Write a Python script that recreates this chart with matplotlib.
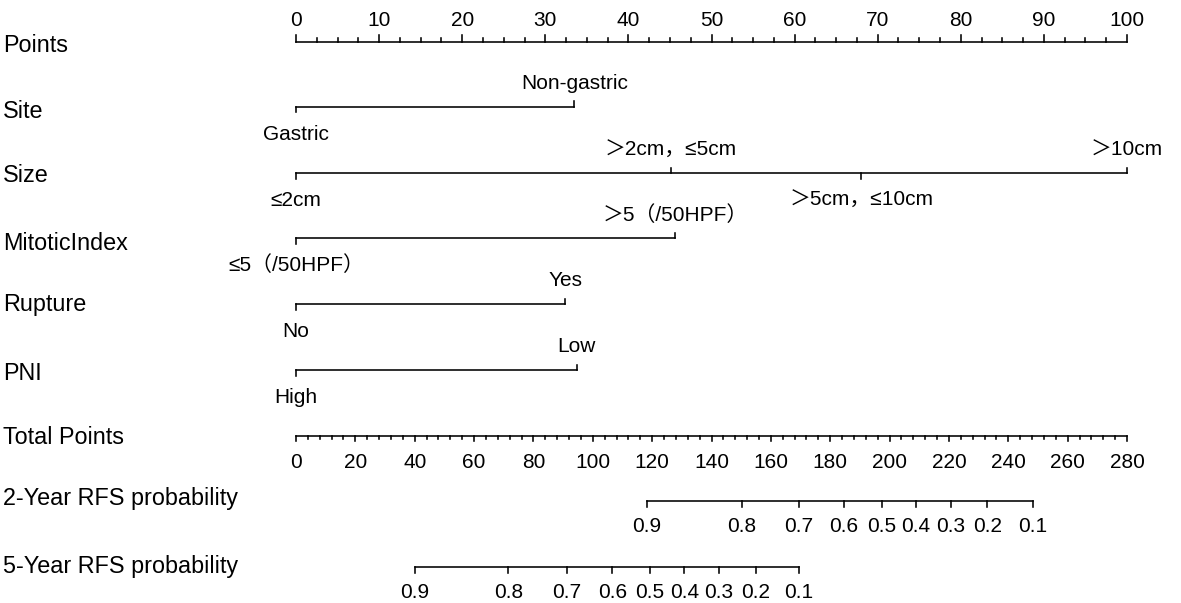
import numpy as np
import matplotlib.pyplot as plt

plt.rcParams['font.family'] = ['Liberation Sans', 'Noto Sans CJK SC', 'DejaVu Sans']

# 各行名称
row_names = ['Points', 'Site', 'Size', 'MitoticIndex', 'Rupture', 'PNI',
             'Total Points', '2-Year RFS probability', '5-Year RFS probability']

# 各变量水平及其得分（0-100 分）
site_levels = ['Gastric', 'Non-gastric']
site_points = [0, 33.5]
size_levels = ['≤2cm', '＞2cm，≤5cm', '＞5cm，≤10cm', '＞10cm']
size_points = [0, 45.1, 68.0, 100]
mitotic_levels = ['≤5（/50HPF）', '＞5（/50HPF）']
mitotic_points = [0, 45.6]
rupture_levels = ['No', 'Yes']
rupture_points = [0, 32.4]
pni_levels = ['High', 'Low']
pni_points = [0, 33.8]

points_max = 100
total_max = 280

# 概率轴：概率值对应的总分
prob_labels = ['0.9', '0.8', '0.7', '0.6', '0.5', '0.4', '0.3', '0.2', '0.1']
rfs2_total = [118.2, 150.2, 169.5, 184.7, 197.3, 208.9, 220.7, 232.9, 248.2]
rfs5_total = [40.1, 71.5, 91.2, 106.6, 119.3, 130.8, 142.5, 154.9, 169.5]

# 版面（像素坐标）
W, H = 1181, 603
x0_px, x100_px = 296, 1127
px_per_pt = (x100_px - x0_px) / points_max
row_line_y = [41.7, 106.7, 173, 238, 304, 370, 435.5, 500.7, 566.7]
row_label_y = [46, 111, 176, 243, 304, 373, 437, 499, 566]

fig = plt.figure(figsize=(W / 100, H / 100), dpi=100)
ax = fig.add_axes([0, 0, 1, 1])
ax.set_xlim(-x0_px / px_per_pt, (W - x0_px) / px_per_pt)
ax.set_ylim(H, 0)
ax.axis('off')

lw = 1.15
col = 'black'
fs_row = 16.8
fs_tick = 15

for name, y in zip(row_names, row_label_y):
    ax.text(-x0_px / px_per_pt + 3 / px_per_pt, y, name, fontsize=fs_row,
            ha='left', va='center', color=col)

# Points 轴
y = row_line_y[0]
ax.plot([0, points_max], [y, y], color=col, lw=lw)
for v in np.arange(0, points_max + 0.01, 2.5):
    major = abs(v % 10) < 1e-6
    ax.plot([v, v], [y, y - (7 if major else 3.5)], color=col, lw=lw)
    if major:
        ax.text(v, y - 21, f'{int(v)}', fontsize=fs_tick, ha='center', va='center')


# 分类变量
def draw_factor(y, levels, pts):
    ax.plot([min(pts), max(pts)], [y, y], color=col, lw=lw)
    for i, (lab, p) in enumerate(zip(levels, pts)):
        up = i % 2 == 1
        ax.plot([p, p], [y, y - 5.5 if up else y + 5.5], color=col, lw=lw)
        ax.text(p, y - 23 if up else y + 27.5, lab, fontsize=fs_tick,
                ha='center', va='center')


draw_factor(row_line_y[1], site_levels, site_points)
draw_factor(row_line_y[2], size_levels, size_points)
draw_factor(row_line_y[3], mitotic_levels, mitotic_points)
draw_factor(row_line_y[4], rupture_levels, rupture_points)
draw_factor(row_line_y[5], pni_levels, pni_points)

# Total Points 轴
scale = points_max / total_max
y = row_line_y[6]
ax.plot([0, total_max * scale], [y, y], color=col, lw=lw)
for v in np.arange(0, total_max + 0.01, 4):
    major = abs(v % 20) < 1e-6
    ax.plot([v * scale, v * scale], [y, y + (5.5 if major else 3)], color=col, lw=lw)
    if major:
        ax.text(v * scale, y + 27.5, f'{int(v)}', fontsize=fs_tick,
                ha='center', va='center')


# 概率轴
def draw_prob(y, totals):
    xs = [t * scale for t in totals]
    ax.plot([min(xs), max(xs)], [y, y], color=col, lw=lw)
    for xv, lab in zip(xs, prob_labels):
        ax.plot([xv, xv], [y, y + 6], color=col, lw=lw)
        ax.text(xv, y + 26, lab, fontsize=fs_tick, ha='center', va='center')


draw_prob(row_line_y[7], rfs2_total)
draw_prob(row_line_y[8], rfs5_total)

fig.savefig('out.png', dpi=100)
